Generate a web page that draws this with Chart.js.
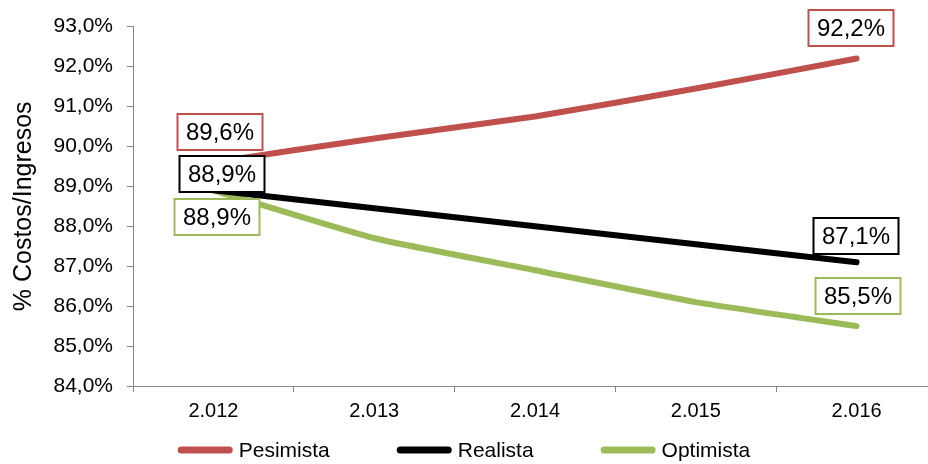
<!DOCTYPE html>
<html>
<head>
<meta charset="utf-8">
<script src="https://cdn.jsdelivr.net/npm/chart.js@4.4.1/dist/chart.umd.min.js"></script>
<style>
html,body{margin:0;padding:0;background:#fff;overflow:hidden;}
#wrap{position:relative;width:946px;height:464px;}
</style>
</head>
<body>
<div id="wrap"><canvas id="c"></canvas></div>
<script>
const categories = ['2.012', '2.013', '2.014', '2.015', '2.016'];
const seriesNames = ['Pesimista', 'Realista', 'Optimista'];
const pesimista = [89.6, 90.2, 90.75, 91.45, 92.2];
const realista = [88.9, 88.45, 88.0, 87.55, 87.1];
const optimista = [88.9, 87.7, 86.9, 86.1, 85.5];
const yTicks = [84, 85, 86, 87, 88, 89, 90, 91, 92, 93];
const axisTitle = '% Costos/Ingresos';

const colors = ['#C0504D', '#000000', '#9BBB59'];
const FONT = '"Liberation Sans", Arial, sans-serif';
const fmt = v => v.toFixed(1).replace('.', ',') + '%';

// label placement offsets (style) for first and last point of each series
const labelOffsets = [
  {first: [7, -30], last: [-6, -31]},
  {first: [9, -16], last: [-1, -26]},
  {first: [4, 27], last: [1, -30]}
];

const boxLabels = {
  id: 'boxLabels',
  afterDatasetsDraw(chart) {
    const ctx = chart.ctx;
    ctx.save();
    ctx.font = '24px ' + FONT;
    ctx.textAlign = 'center';
    ctx.textBaseline = 'middle';
    chart.data.datasets.forEach((ds, di) => {
      const meta = chart.getDatasetMeta(di);
      const n = ds.data.length;
      [[0, 'first'], [n - 1, 'last']].forEach(([idx, key]) => {
        const pt = meta.data[idx];
        const off = labelOffsets[di][key];
        const cx = Math.round(pt.x + off[0]), cy = Math.round(pt.y + off[1]);
        const text = fmt(ds.data[idx]);
        const w = 85, h = 36;
        ctx.fillStyle = '#fff';
        ctx.fillRect(cx - w / 2, cy - h / 2, w, h);
        ctx.strokeStyle = colors[di];
        ctx.lineWidth = 2;
        ctx.strokeRect(cx - w / 2, cy - h / 2, w, h);
        ctx.fillStyle = '#000';
        ctx.fillText(text, cx, cy + 1);
      });
    });
    ctx.restore();
  }
};

const lineLegend = {
  id: 'lineLegend',
  afterDraw(chart) {
    const ctx = chart.ctx;
    ctx.save();
    ctx.font = '21px ' + FONT;
    ctx.textBaseline = 'middle';
    ctx.textAlign = 'left';
    const lineW = 55, gapText = 6, gapItem = 67, y = 450;
    const items = chart.data.datasets.map((ds, i) => ({name: ds.label, color: colors[i], tw: ctx.measureText(ds.label).width}));
    const total = items.reduce((s, it) => s + lineW + gapText + it.tw, 0) + gapItem * (items.length - 1);
    let x = 464 - total / 2;
    items.forEach(it => {
      ctx.strokeStyle = it.color;
      ctx.lineWidth = 7;
      ctx.lineCap = 'round';
      ctx.beginPath();
      ctx.moveTo(x + 3.5, y);
      ctx.lineTo(x + lineW - 3.5, y);
      ctx.stroke();
      ctx.fillStyle = '#000';
      ctx.fillText(it.name, x + lineW + gapText, y + 1);
      x += lineW + gapText + it.tw + gapItem;
    });
    ctx.restore();
  }
};

new Chart(document.getElementById('c'), {
  type: 'line',
  data: {
    labels: categories,
    datasets: [pesimista, realista, optimista].map((d, i) => ({
      label: seriesNames[i],
      data: d,
      borderColor: colors[i],
      backgroundColor: colors[i],
      borderWidth: 6,
      borderCapStyle: 'round',
      borderJoinStyle: 'round',
      pointRadius: 0,
      tension: 0.15,
      fill: false
    }))
  },
  options: {
    responsive: true,
    maintainAspectRatio: false,
    animation: false,
    devicePixelRatio: 1,
    layout: {padding: {top: 23, left: 0, right: 9, bottom: 38}},
    plugins: {
      tooltip: {enabled: false},
      legend: {display: false}
    },
    scales: {
      x: {
        offset: true,
        afterFit: s => { s.height = 40; },
        grid: {display: true, offset: true, drawOnChartArea: false, drawTicks: true, tickLength: 6, color: '#868686', lineWidth: 1},
        border: {display: true, color: '#868686', width: 1},
        ticks: {color: '#000', padding: 7, font: {size: 20, family: FONT}}
      },
      y: {
        min: 84,
        max: 93,
        afterBuildTicks: s => { s.ticks = yTicks.map(v => ({value: v})); },
        afterFit: s => { s.width = 133; },
        grid: {display: true, drawOnChartArea: false, drawTicks: true, tickLength: 6, color: '#868686'},
        border: {display: true, color: '#868686', width: 1},
        ticks: {color: '#000', padding: 14, callback: v => fmt(v), font: {size: 21, family: FONT}},
        title: {display: true, text: axisTitle, color: '#000', padding: {top: 9, bottom: 0}, font: {size: 25, family: FONT}}
      }
    }
  },
  plugins: [boxLabels, lineLegend]
});
</script>
</body>
</html>
